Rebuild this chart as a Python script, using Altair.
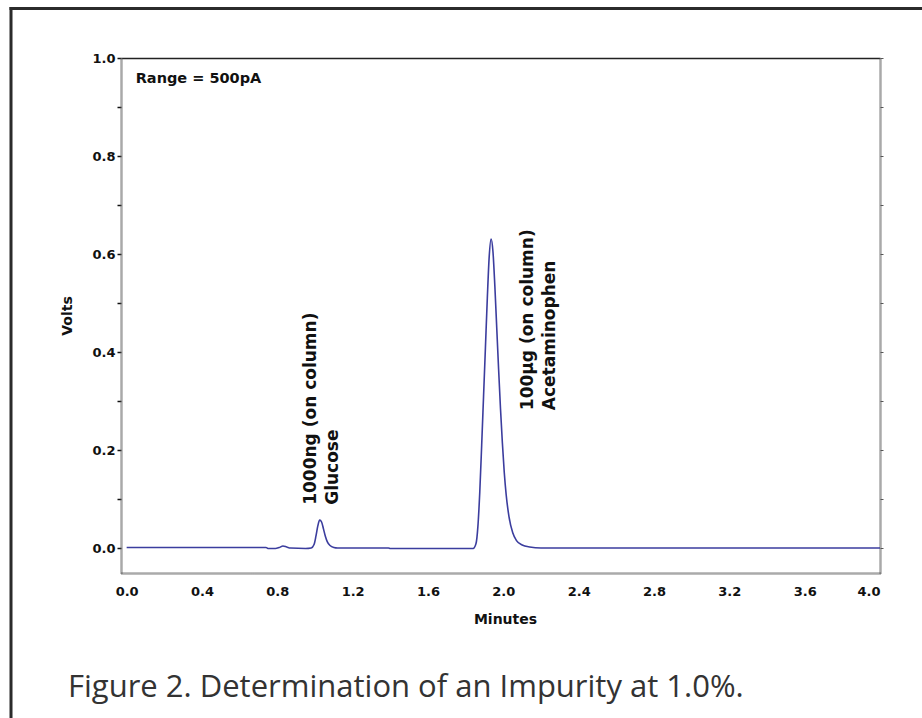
import altair as alt
import pandas as pd

# ---- data ----
minutes = [0.0, 0.2, 0.4, 0.6, 0.74, 0.75, 0.79, 0.81, 0.83, 0.85, 0.87, 0.95, 0.98,
           0.995, 1.005, 1.015, 1.025, 1.035, 1.045, 1.055, 1.065, 1.08, 1.10, 1.12,
           1.3, 1.39, 1.40, 1.6, 1.80, 1.84, 1.855, 1.865, 1.875, 1.885, 1.895, 1.905,
           1.915, 1.925, 1.935, 1.945, 1.955, 1.965, 1.975, 1.985, 1.995, 2.005, 2.015,
           2.03, 2.05, 2.07, 2.10, 2.14, 2.20, 2.5, 3.0, 3.5, 4.0]
volts = [0.002, 0.002, 0.002, 0.002, 0.002, 0.0, 0.0, 0.002, 0.005, 0.003, 0.001, 0.0, 0.001,
         0.008, 0.025, 0.046, 0.058, 0.054, 0.040, 0.025, 0.014, 0.006, 0.002, 0.001,
         0.001, 0.001, 0.0, 0.0, 0.0, 0.0, 0.01, 0.045, 0.115, 0.21, 0.31, 0.41,
         0.51, 0.595, 0.631, 0.605, 0.535, 0.45, 0.365, 0.285, 0.215, 0.155, 0.11,
         0.065, 0.032, 0.016, 0.007, 0.003, 0.001, 0.001, 0.001, 0.001, 0.001]

x_tick_labels = [0.0, 0.4, 0.8, 1.2, 1.6, 2.0, 2.4, 2.8, 3.2, 3.6, 4.0]
y_ticks = [0.0, 0.1, 0.2, 0.3, 0.4, 0.5, 0.6, 0.7, 0.8, 0.9, 1.0]

ann_text = ["Range = 500pA", "1000ng (on column)", "Glucose", "100\u00b5g (on column)", "Acetaminophen"]
ann_x = [0.048, 0.977, 1.094, 2.130, 2.247]
ann_y = [0.957, 0.089, 0.089, 0.282, 0.282]
ann_angle = [0, 270, 270, 270, 270]

caption = ["Figure 2. Determination of an Impurity at 1.0%."]

X_DOMAIN = [-0.03, 4.0]
Y_DOMAIN = [-0.05, 1.0]
FONT = "DejaVu Sans"

df = pd.DataFrame({"Minutes": minutes, "Volts": volts})
ann = pd.DataFrame({"text": ann_text, "x": ann_x, "y": ann_y, "angle": ann_angle})
cap = pd.DataFrame({"text": caption})

xs = alt.Scale(domain=X_DOMAIN, nice=False, zero=False)
ys = alt.Scale(domain=Y_DOMAIN, nice=False, zero=False)

line = alt.Chart(df).mark_line(color="#3b3d9e", strokeWidth=1.6, interpolate="monotone").encode(
    x=alt.X("Minutes:Q", scale=xs,
            axis=alt.Axis(orient="bottom", values=x_tick_labels, format=".1f", title="Minutes",
                          tickSize=0, labelPadding=22, labelBaseline="alphabetic",
                          labelFont=FONT, labelFontWeight="bold", labelFontSize=13, labelColor="#111",
                          titleFont=FONT, titleFontWeight="bold", titleFontSize=14, titleColor="#111",
                          titleBaseline="alphabetic", titleY=50, titleX=384,
                          domainColor="#555", domainWidth=2.5, domainDash=[1, 1], grid=False)),
    y=alt.Y("Volts:Q", scale=ys,
            axis=alt.Axis(orient="left", values=y_ticks, title="Volts",
                          labelExpr="round(datum.value*10) % 2 == 0 ? format(datum.value, '.1f') : ''",
                          tickSize=4, tickColor="#111", tickWidth=1.5, labelPadding=2,
                          labelFont=FONT, labelFontWeight="bold", labelFontSize=13, labelColor="#111",
                          titleFont=FONT, titleFontWeight="bold", titleFontSize=14, titleColor="#111",
                          titlePadding=17,
                          domainColor="#555", domainWidth=2.5, domainDash=[1, 1], grid=False)),
)

frame_axes = alt.Chart(df).mark_point(opacity=0).encode(
    x=alt.X("Minutes:Q", scale=xs,
            axis=alt.Axis(orient="top", labels=False, ticks=False, title=None,
                          domainColor="#222", domainWidth=1.5, grid=False)),
    y=alt.Y("Volts:Q", scale=ys,
            axis=alt.Axis(orient="right", values=y_ticks, labels=False, title=None,
                          tickSize=3, tickColor="#555",
                          domainColor="#555", domainWidth=2.5, domainDash=[1, 1], grid=False)),
)

labels = alt.Chart(ann).mark_text(font=FONT, fontWeight="bold", align="left", baseline="middle",
                                  color="#111").encode(
    x=alt.X("x:Q", scale=xs, axis=None),
    y=alt.Y("y:Q", scale=ys, axis=None),
    text="text:N",
    angle=alt.Angle("angle:Q", scale=None),
    size=alt.condition(alt.datum.angle == 0, alt.value(14.5), alt.value(17)),
)

caption_text = alt.Chart(cap).mark_text(font="Open Sans", fontSize=31, align="left",
                                        baseline="alphabetic", color="#333333").encode(
    x=alt.value(-53), y=alt.value(639), text="text:N")

border = alt.Data(values=[{}])
left_rule = alt.Chart(border).mark_rule(color="#2b2b2b", strokeWidth=3).encode(
    x=alt.value(-110), y=alt.value(-51), y2=alt.value(670))
top_rule = alt.Chart(border).mark_rule(color="#2b2b2b", strokeWidth=3).encode(
    x=alt.value(-111.5), x2=alt.value(810), y=alt.value(-49.5))

chart = alt.layer(line, frame_axes, labels, caption_text, left_rule, top_rule).resolve_axis(
    x="independent", y="independent"
).properties(
    width=759, height=515,
    autosize=alt.AutoSizeParams(type="none"),
    padding={"left": 121, "top": 58, "right": 42, "bottom": 145},
    background="white",
).configure_view(stroke=None)

chart.save("out.html", embed_options={"renderer": "svg", "actions": False})
